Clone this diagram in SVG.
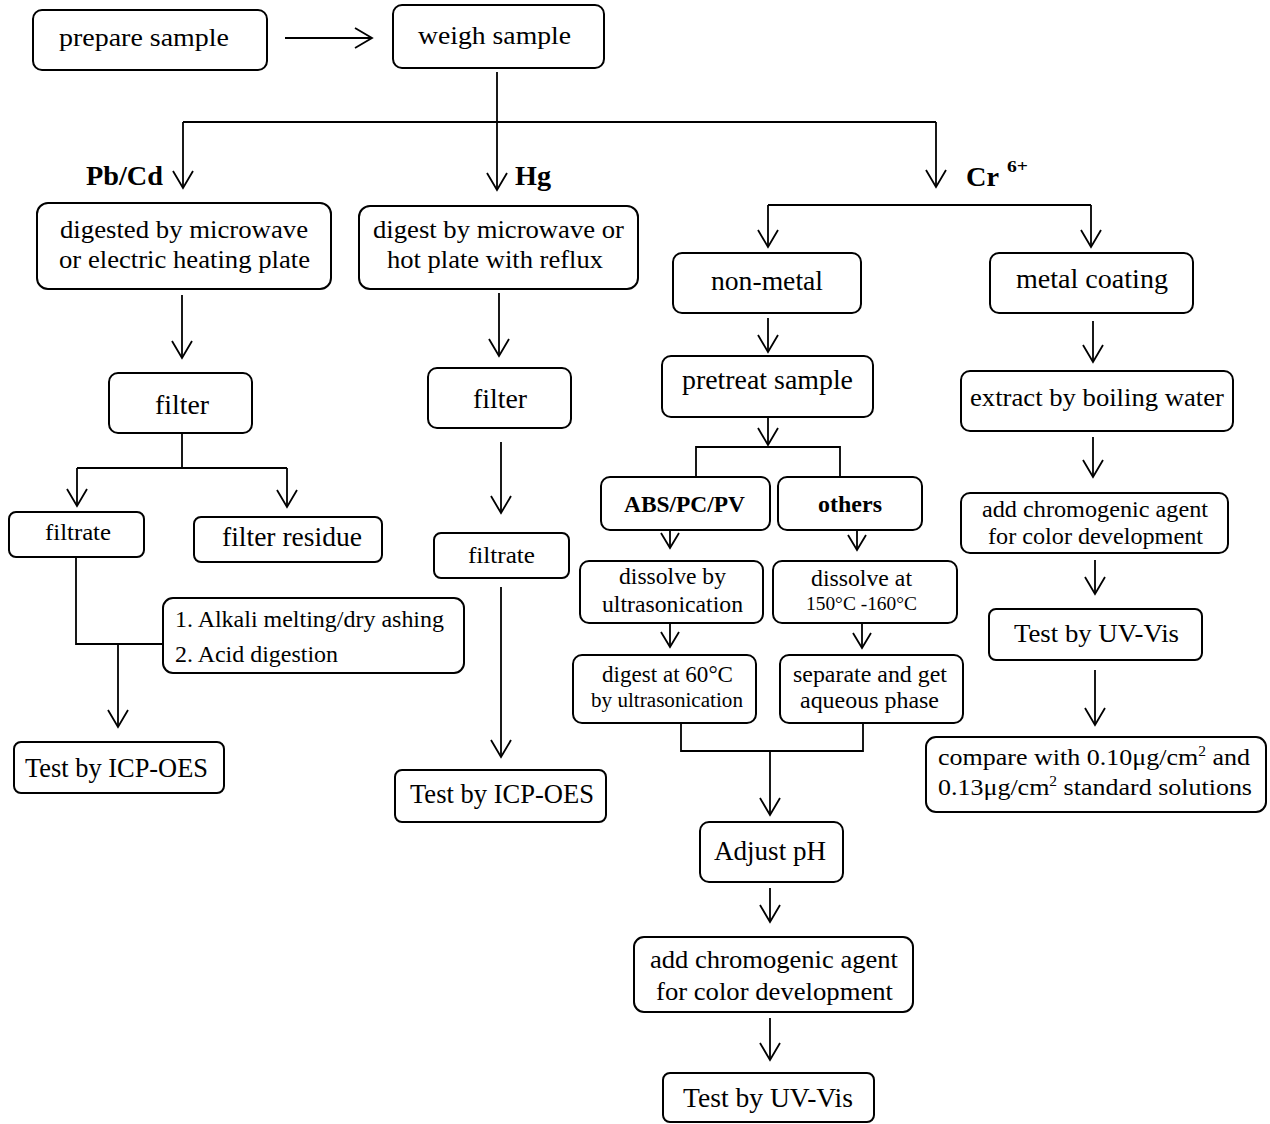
<svg xmlns="http://www.w3.org/2000/svg" width="1270" height="1124" viewBox="0 0 1270 1124">
<style>
.box{fill:#fff;stroke:#000;stroke-width:2}
.t{font-family:"Liberation Serif","Times New Roman",serif;fill:#000;text-anchor:middle}
.s{text-anchor:start}
.b{font-weight:bold}
.c{fill:none;stroke:#000;stroke-width:1.8}
.a{marker-end:url(#ah)}
.as{marker-end:url(#ahs)}
</style>
<defs>
<marker id="ah" markerUnits="userSpaceOnUse" markerWidth="40" markerHeight="40" viewBox="-20 -20 40 40" refX="0" refY="0" orient="auto" overflow="visible">
<path d="M-17,-10 L0,0 L-17,10" fill="none" stroke="#000" stroke-width="1.8"/>
</marker>
<marker id="ahs" markerUnits="userSpaceOnUse" markerWidth="40" markerHeight="40" viewBox="-20 -20 40 40" refX="0" refY="0" orient="auto" overflow="visible">
<path d="M-15,-9 L0,0 L-15,9" fill="none" stroke="#000" stroke-width="1.8"/>
</marker>
</defs>
<rect width="1270" height="1124" fill="#fff"/>
<g id="connectors">
<path class="c a" d="M285,38 H372"/>
<path class="c a" d="M497,72 V190"/>
<path class="c" d="M183,122 H936"/>
<path class="c a" d="M183,122 V188"/>
<path class="c a" d="M936,122 V187"/>
<path class="c a" d="M182,295 V358"/>
<path class="c a" d="M499,293 V356"/>
<path class="c" d="M182,433 V468 M77,468 H287"/>
<path class="c a" d="M77,468 V506"/>
<path class="c a" d="M287,468 V507"/>
<path class="c a" d="M501,442 V513"/>
<path class="c" d="M76,557 V644 H163"/>
<path class="c a" d="M118,644 V727"/>
<path class="c a" d="M501,587 V757"/>
<path class="c" d="M768,205 H1091"/>
<path class="c a" d="M768,205 V247"/>
<path class="c a" d="M1091,205 V247"/>
<path class="c a" d="M768,318 V352"/>
<path class="c a" d="M1093,321 V362"/>
<path class="c a" d="M768,417 V445"/>
<path class="c" d="M696,477 V447 H840 V477"/>
<path class="c a" d="M1093,437 V477"/>
<path class="c as" d="M670,531 V548"/>
<path class="c as" d="M857,531 V550"/>
<path class="c as" d="M670,624 V647"/>
<path class="c as" d="M862,624 V648"/>
<path class="c" d="M681,723 V751 H863 V723"/>
<path class="c a" d="M770,751 V815"/>
<path class="c a" d="M770,888 V922"/>
<path class="c a" d="M770,1018 V1060"/>
<path class="c a" d="M1095,560 V594"/>
<path class="c a" d="M1095,670 V725"/>
</g>
<g id="prepare"><rect class="box" x="33" y="10" width="234" height="60" rx="9"/><text class="t" x="144" y="46" font-size="26" textLength="170" lengthAdjust="spacingAndGlyphs">prepare sample</text></g>
<g id="weigh"><rect class="box" x="393" y="5" width="211" height="63" rx="9"/><text class="t" x="494.5" y="44" font-size="26" textLength="153" lengthAdjust="spacingAndGlyphs">weigh sample</text></g>
<g id="label-pbcd"><text class="t b" x="124.5" y="185" font-size="27" textLength="77" lengthAdjust="spacingAndGlyphs">Pb/Cd</text></g>
<g id="label-hg"><text class="t b" x="533" y="185" font-size="27" textLength="36" lengthAdjust="spacingAndGlyphs">Hg</text></g>
<g id="label-cr"><text class="t b s" x="966" y="186" font-size="27" textLength="33" lengthAdjust="spacingAndGlyphs">Cr</text><text class="t b s" x="1007" y="172" font-size="16" textLength="21" lengthAdjust="spacingAndGlyphs">6+</text></g>
<g id="pb-digest"><rect class="box" x="37" y="203" width="294" height="86" rx="11"/><text class="t" x="184" y="238" font-size="25" textLength="248" lengthAdjust="spacingAndGlyphs">digested by microwave</text><text class="t" x="184.5" y="268" font-size="25" textLength="251" lengthAdjust="spacingAndGlyphs">or electric heating plate</text></g>
<g id="hg-digest"><rect class="box" x="359" y="206" width="279" height="83" rx="11"/><text class="t" x="498.5" y="238" font-size="25" textLength="251" lengthAdjust="spacingAndGlyphs">digest by microwave or</text><text class="t" x="495" y="268" font-size="25" textLength="216" lengthAdjust="spacingAndGlyphs">hot plate with reflux</text></g>
<g id="pb-filter"><rect class="box" x="109" y="373" width="143" height="60" rx="9"/><text class="t" x="182" y="414" font-size="28" textLength="54" lengthAdjust="spacingAndGlyphs">filter</text></g>
<g id="hg-filter"><rect class="box" x="428" y="368" width="143" height="60" rx="9"/><text class="t" x="500" y="408" font-size="28" textLength="54" lengthAdjust="spacingAndGlyphs">filter</text></g>
<g id="pb-filtrate"><rect class="box" x="9" y="512" width="135" height="45" rx="7"/><text class="t" x="78" y="540" font-size="24" textLength="66" lengthAdjust="spacingAndGlyphs">filtrate</text></g>
<g id="pb-residue"><rect class="box" x="194" y="517" width="188" height="45" rx="7"/><text class="t" x="292" y="546" font-size="27" textLength="140" lengthAdjust="spacingAndGlyphs">filter residue</text></g>
<g id="pb-alkali"><rect class="box" x="163" y="598" width="301" height="75" rx="10"/><text class="t s" x="175" y="627" font-size="23.5" textLength="269" lengthAdjust="spacingAndGlyphs">1. Alkali melting/dry ashing</text><text class="t s" x="175" y="662" font-size="23.5" textLength="163" lengthAdjust="spacingAndGlyphs">2. Acid digestion</text></g>
<g id="pb-test"><rect class="box" x="14" y="742" width="210" height="51" rx="7"/><text class="t" x="116.5" y="777" font-size="26.5" textLength="183" lengthAdjust="spacingAndGlyphs">Test by ICP-OES</text></g>
<g id="hg-filtrate"><rect class="box" x="434" y="533" width="135" height="45" rx="7"/><text class="t" x="501.5" y="563" font-size="24" textLength="67" lengthAdjust="spacingAndGlyphs">filtrate</text></g>
<g id="hg-test"><rect class="box" x="395" y="770" width="211" height="52" rx="7"/><text class="t" x="502" y="803" font-size="26.5" textLength="184" lengthAdjust="spacingAndGlyphs">Test by ICP-OES</text></g>
<g id="cr-nonmetal"><rect class="box" x="673" y="253" width="188" height="60" rx="9"/><text class="t" x="767" y="290" font-size="27" textLength="112" lengthAdjust="spacingAndGlyphs">non-metal</text></g>
<g id="cr-metal"><rect class="box" x="990" y="253" width="203" height="60" rx="9"/><text class="t" x="1092" y="288" font-size="26.5" textLength="152" lengthAdjust="spacingAndGlyphs">metal coating</text></g>
<g id="cr-pretreat"><rect class="box" x="662" y="356" width="211" height="61" rx="9"/><text class="t" x="767.5" y="389" font-size="26.5" textLength="171" lengthAdjust="spacingAndGlyphs">pretreat sample</text></g>
<g id="cr-extract"><rect class="box" x="961" y="371" width="272" height="60" rx="9"/><text class="t" x="1097" y="406" font-size="25.5" textLength="254" lengthAdjust="spacingAndGlyphs">extract by boiling water</text></g>
<g id="cr-abs"><rect class="box" x="601" y="477" width="169" height="53" rx="9"/><text class="t b" x="684.5" y="512" font-size="22.5" textLength="121" lengthAdjust="spacingAndGlyphs">ABS/PC/PV</text></g>
<g id="cr-others"><rect class="box" x="778" y="477" width="144" height="53" rx="9"/><text class="t b" x="850" y="512" font-size="22.5" textLength="64" lengthAdjust="spacingAndGlyphs">others</text></g>
<g id="cr-dissolve-ultra"><rect class="box" x="580" y="561" width="183" height="62" rx="9"/><text class="t" x="672.5" y="584" font-size="23" textLength="107" lengthAdjust="spacingAndGlyphs">dissolve by</text><text class="t" x="672.5" y="612" font-size="23" textLength="141" lengthAdjust="spacingAndGlyphs">ultrasonication</text></g>
<g id="cr-dissolve-heat"><rect class="box" x="773" y="561" width="184" height="62" rx="9"/><text class="t" x="861.5" y="586" font-size="23" textLength="101" lengthAdjust="spacingAndGlyphs">dissolve at</text><text class="t" x="861.5" y="610" font-size="18" textLength="111" lengthAdjust="spacingAndGlyphs">150°C -160°C</text></g>
<g id="cr-digest60"><rect class="box" x="573" y="655" width="183" height="68" rx="9"/><text class="t" x="667.5" y="682" font-size="23" textLength="131" lengthAdjust="spacingAndGlyphs">digest at 60°C</text><text class="t" x="667" y="707" font-size="20.5" textLength="152" lengthAdjust="spacingAndGlyphs">by ultrasonication</text></g>
<g id="cr-separate"><rect class="box" x="780" y="655" width="183" height="68" rx="9"/><text class="t" x="870" y="682" font-size="23" textLength="154" lengthAdjust="spacingAndGlyphs">separate and get</text><text class="t" x="869.5" y="708" font-size="23" textLength="139" lengthAdjust="spacingAndGlyphs">aqueous phase</text></g>
<g id="cr-adjust"><rect class="box" x="700" y="822" width="143" height="60" rx="9"/><text class="t" x="770" y="860" font-size="27" textLength="112" lengthAdjust="spacingAndGlyphs">Adjust pH</text></g>
<g id="cr-chromo-nm"><rect class="box" x="634" y="937" width="279" height="75" rx="10"/><text class="t" x="774" y="968" font-size="24.5" textLength="248" lengthAdjust="spacingAndGlyphs">add chromogenic agent</text><text class="t" x="774.5" y="1000" font-size="24.5" textLength="237" lengthAdjust="spacingAndGlyphs">for color development</text></g>
<g id="cr-uv-nm"><rect class="box" x="663" y="1073" width="211" height="49" rx="7"/><text class="t" x="768" y="1107" font-size="26.5" textLength="170" lengthAdjust="spacingAndGlyphs">Test by UV-Vis</text></g>
<g id="cr-chromo-m"><rect class="box" x="961" y="493" width="267" height="60" rx="9"/><text class="t" x="1095" y="517" font-size="22.5" textLength="226" lengthAdjust="spacingAndGlyphs">add chromogenic agent</text><text class="t" x="1095.5" y="544" font-size="22.5" textLength="215" lengthAdjust="spacingAndGlyphs">for color development</text></g>
<g id="cr-uv-m"><rect class="box" x="989" y="609" width="213" height="51" rx="7"/><text class="t" x="1096.5" y="642" font-size="26" textLength="165" lengthAdjust="spacingAndGlyphs">Test by UV-Vis</text></g>
<g id="cr-compare"><rect class="box" x="926" y="737" width="340" height="75" rx="10"/><text class="t s" x="938" y="765" font-size="23.5" textLength="312" lengthAdjust="spacingAndGlyphs">compare with 0.10μg/cm<tspan font-size="14" dy="-9">2</tspan><tspan dy="9"> and</tspan></text><text class="t s" x="938" y="795" font-size="23.5" textLength="314" lengthAdjust="spacingAndGlyphs">0.13μg/cm<tspan font-size="14" dy="-9">2</tspan><tspan dy="9"> standard solutions</tspan></text></g>
</svg>
